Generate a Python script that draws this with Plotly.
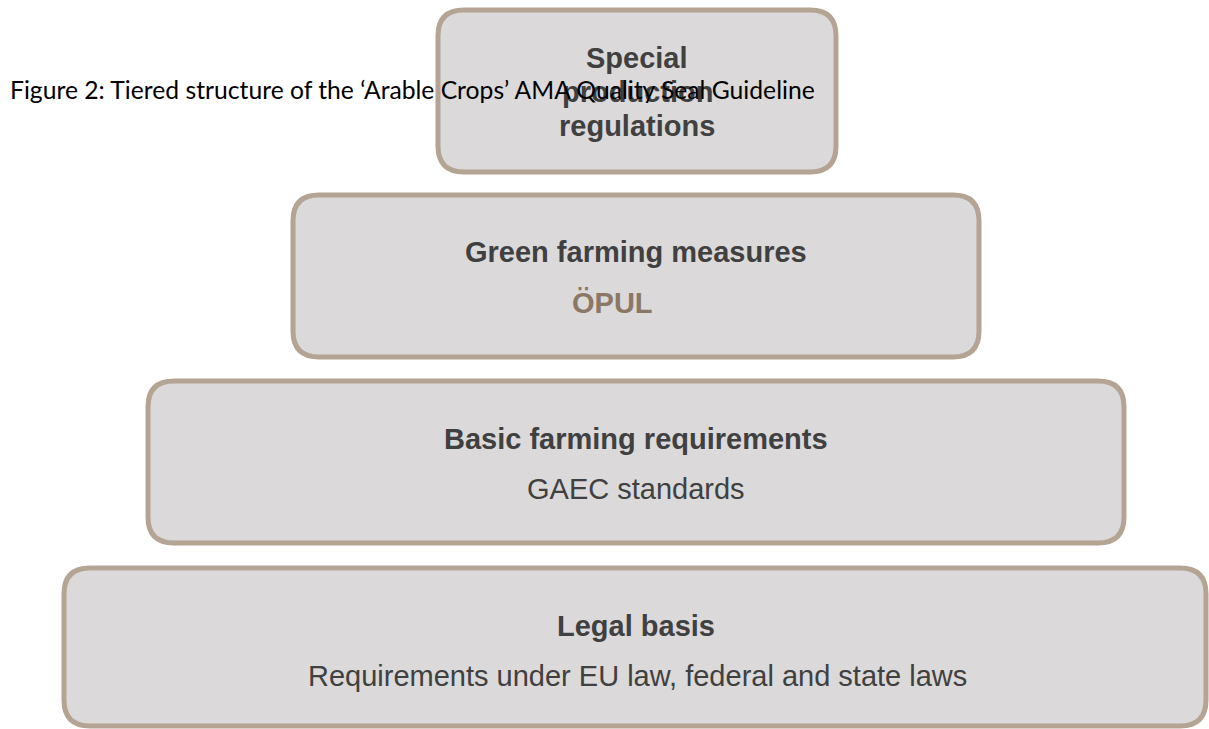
import plotly.graph_objects as go

# ---- data ----
tier_titles = ["Special\nproduction\nregulations", "Green farming measures",
               "Basic farming requirements", "Legal basis"]
tier_subtitles = ["", "ÖPUL", "GAEC standards",
                  "Requirements under EU law, federal and state laws"]
caption = "Figure 2: Tiered structure of the \u2018Arable Crops\u2019 AMA Quality Seal Guideline"

# ---- geometry (page pixels) ----
W, H = 1209, 729
boxes = [  # x0, x1, y0, y1
    (438, 836, 10, 172),
    (293, 979, 195, 357),
    (148, 1124, 381, 543),
    (64, 1206, 568, 726),
]
R = 26
FILL = "#dbd9da"
LINE = "#b4a493"
TXT = "#404040"
ACC = "#8b7765"
FS = 29


def rrect(x0, x1, y0, y1, r):
    return (f"M {x0+r},{y0} L {x1-r},{y0} Q {x1},{y0} {x1},{y0+r} "
            f"L {x1},{y1-r} Q {x1},{y1} {x1-r},{y1} L {x0+r},{y1} "
            f"Q {x0},{y1} {x0},{y1-r} L {x0},{y0+r} Q {x0},{y0} {x0+r},{y0} Z")


fig = go.Figure()
shapes = []
for (x0, x1, y0, y1) in boxes:
    shapes.append(dict(type="path", path=rrect(x0, x1, y0, y1, R), xref="x", yref="y",
                       fillcolor=FILL, line=dict(color=LINE, width=5), layer="below"))

ann = []
lines = tier_titles[0].split("\n")
for i, ln in enumerate(lines):
    ann.append(dict(x=637, y=58 + 34 * i, text=f"<b>{ln}</b>", showarrow=False,
                    xref="x", yref="y", font=dict(family="Liberation Sans", size=FS, color=TXT)))

title_y = [None, 252, 439, 626]
sub_y = [None, 303, 489, 676]
sub_x = [None, 612, 636, 637]
for k in range(1, 4):
    ann.append(dict(x=636, y=title_y[k], text=f"<b>{tier_titles[k]}</b>", showarrow=False,
                    xref="x", yref="y", font=dict(family="Liberation Sans", size=FS, color=TXT)))
    sub = tier_subtitles[k]
    if k == 1:
        txt, col = f"<b>{sub}</b>", ACC
    else:
        txt, col = sub, TXT
    ann.append(dict(x=sub_x[k], y=sub_y[k], text=txt, showarrow=False,
                    xref="x", yref="y", font=dict(family="Liberation Sans", size=FS, color=col)))

ann.append(dict(x=8, y=89, text=caption, showarrow=False, xref="x", yref="y",
                xanchor="left", font=dict(family="Lato", size=24.7, color="#000000")))

fig.update_layout(
    width=W, height=H, margin=dict(l=0, r=0, t=0, b=0),
    paper_bgcolor="white", plot_bgcolor="white",
    xaxis=dict(range=[0, W], visible=False, fixedrange=True),
    yaxis=dict(range=[H, 0], visible=False, fixedrange=True),
    shapes=shapes, annotations=ann, showlegend=False,
)
fig.write_html("out.html", config={"displayModeBar": False},
               post_script="document.body.style.margin='0';document.body.style.overflow='hidden';")
